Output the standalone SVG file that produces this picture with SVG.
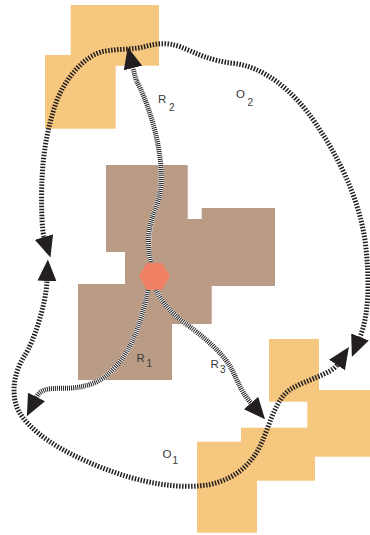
<svg xmlns="http://www.w3.org/2000/svg" width="370" height="535" viewBox="0 0 370 535">
  <style>
    .zone-a { fill: #F6C77F; }
    .zone-b { fill: #B99B86; }
    .orbit { fill: none; stroke: #231F20; stroke-width: 5; stroke-dasharray: 1.5 1.5; }
    .route-bg { fill: none; stroke: #ffffff; stroke-width: 5; }
    .route { fill: none; stroke: #231F20; stroke-width: 5; stroke-dasharray: 1 1; }
    .lbl { font-family: "Liberation Sans", Arial, sans-serif; font-size: 11.5px; fill: #3a3a3a; }
    .sub { font-family: "Liberation Sans", Arial, sans-serif; font-size: 10px; fill: #3a3a3a; }
    .hub { fill: #F08064; }
  </style>
  <defs>
    <marker id="tip" viewBox="0 0 21.5 19" refX="0" refY="9.5" markerWidth="21.5" markerHeight="19" markerUnits="userSpaceOnUse" orient="auto-start-reverse">
      <path d="M0,0 L21.5,9.5 L0,19 Z" fill="#231F20"/>
    </marker>
  </defs>

  <!-- regions -->
  <g id="zone-north">
    <rect class="zone-a" x="70.7" y="5" width="88.3" height="60.7"/>
    <rect class="zone-a" x="45" y="55" width="70.7" height="73.7"/>
  </g>
  <g id="zone-south">
    <rect class="zone-a" x="269" y="339" width="50" height="62.7"/>
    <rect class="zone-a" x="307.3" y="390" width="62.7" height="66.7"/>
    <rect class="zone-a" x="241" y="427.7" width="74" height="53"/>
    <rect class="zone-a" x="197" y="441.7" width="60" height="91"/>
  </g>
  <g id="zone-center">
    <rect class="zone-b" x="106" y="165" width="81.7" height="87"/>
    <rect class="zone-b" x="125" y="219" width="86.7" height="105"/>
    <rect class="zone-b" x="201.7" y="208" width="73.3" height="78"/>
    <rect class="zone-b" x="78" y="284" width="94" height="96"/>
  </g>

  <!-- connectors -->
  <g id="connectors">
    <!-- O2: upper loop -->
    <path id="o2" class="orbit" marker-start="url(#tip)" marker-end="url(#tip)"
      d="M44,237 C41.8,230 41,200 42,180 C43,152 48,125 57,100 C66,78 84,56 103,51.5 C118,48.5 133,50 145,46.5 C156,43.5 167,42 181,47 C196,53 210,61 235,63.5 C262,67 292,88 316,124 C337,155 358,195 365,240 C370,280 369,315 360,337"/>
    <!-- O1: lower loop -->
    <path id="o1" class="orbit" marker-start="url(#tip)" marker-end="url(#tip)"
      d="M337,365 C331,374 306,380 291,389 C276,398 270,424 262,442 C253,462 238,478 210,484.5 C180,490 140,483 100,467 C60,451 30,432 18,410 C10,392 15,370 25,355 C33,343 46,305 47,281"/>
    <!-- R2 -->
    <path class="route-bg" d="M151,262 C146,242 149,226 155,210 C161,195 163,178 160,158 C157,132 147,100 136,80 L133,68"/>
    <path id="r2" class="route" marker-end="url(#tip)" d="M151,262 C146,242 149,226 155,210 C161,195 163,178 160,158 C157,132 147,100 136,80 L133,68"/>
    <!-- R1 -->
    <path class="route-bg" d="M148,290 C142,320 132,350 116,366 C104,380 92,386 72,388 C56,389 42,386 36.5,397"/>
    <path id="r1" class="route" marker-end="url(#tip)" d="M148,290 C142,320 132,350 116,366 C104,380 92,386 72,388 C56,389 42,386 36.5,397"/>
    <!-- R3 -->
    <path class="route-bg" d="M156,290 C162,302 172,314 186,324 C200,334 220,350 230,366 C236,376 239,389 251,403"/>
    <path id="r3" class="route" marker-end="url(#tip)" d="M156,290 C162,302 172,314 186,324 C200,334 220,350 230,366 C236,376 239,389 251,403"/>
  </g>

  <!-- hub -->
  <g id="hub">
    <polygon class="hub" points="170,276.3 162.25,289.7 146.75,289.7 139,276.3 146.75,262.9 162.25,262.9"/>
  </g>

  <!-- labels -->
  <g id="label-r2"><text class="lbl" x="158" y="103.3">R</text><text class="sub" x="169" y="110.7">2</text></g>
  <g id="label-o2"><text class="lbl" x="236" y="98.3">O</text><text class="sub" x="247.5" y="106">2</text></g>
  <g id="label-r1"><text class="lbl" x="136.5" y="361.7">R</text><text class="sub" x="146.5" y="366.7">1</text></g>
  <g id="label-r3"><text class="lbl" x="210.5" y="368.3">R</text><text class="sub" x="220" y="373.3">3</text></g>
  <g id="label-o1"><text class="lbl" x="162.5" y="458.3">O</text><text class="sub" x="172.5" y="464">1</text></g>
</svg>
